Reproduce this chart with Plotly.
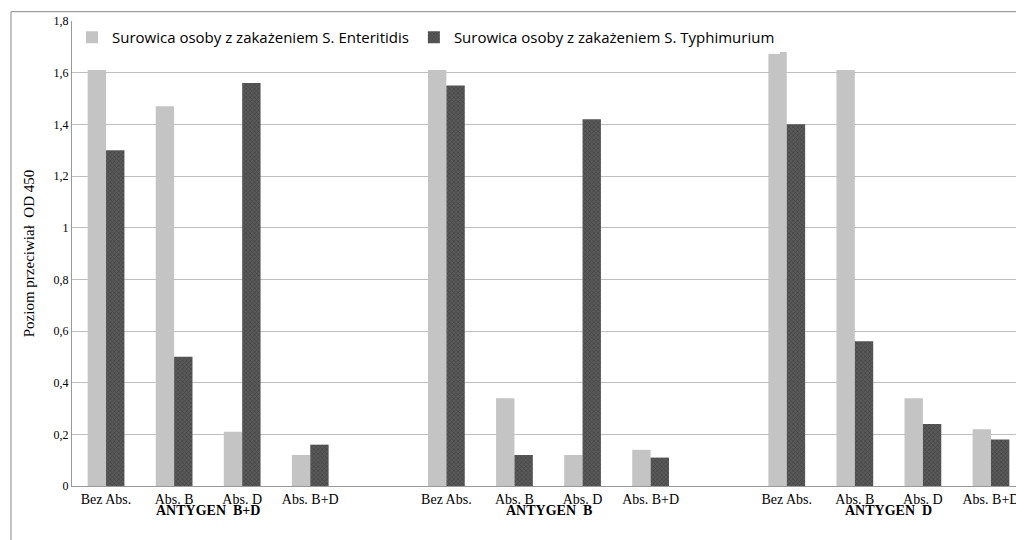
import plotly.graph_objects as go

slots = ["Bez Abs.", "Abs. B", "Abs. D", "Abs. B+D", "",
         "Bez Abs.", "Abs. B", "Abs. D", "Abs. B+D", "",
         "Bez Abs.", "Abs. B", "Abs. D", "Abs. B+D"]
groups = ["ANTYGEN  B+D", "ANTYGEN  B", "ANTYGEN  D"]
enteritidis = [1.61, 1.47, 0.21, 0.12, None,
               1.61, 0.34, 0.12, 0.14, None,
               1.68, 1.61, 0.34, 0.22]
typhimurium = [1.30, 0.50, 1.56, 0.16, None,
               1.55, 0.12, 1.42, 0.11, None,
               1.40, 0.56, 0.24, 0.18]
y_ticks = [0, 0.2, 0.4, 0.6, 0.8, 1, 1.2, 1.4, 1.6, 1.8]
y_labels = ["0", "0,2", "0,4", "0,6", "0,8", "1", "1,2", "1,4", "1,6", "1,8"]

x = list(range(len(slots)))

fig = go.Figure()
fig.add_trace(go.Bar(x=x, y=enteritidis, name="Surowica osoby z zakażeniem S. Enteritidis",
                     marker=dict(color="#c4c4c4", line=dict(width=0))))
fig.add_trace(go.Bar(x=x, y=typhimurium, name="Surowica osoby z zakażeniem S. Typhimurium",
                     marker=dict(color="#5a5a5a", line=dict(width=0),
                                 pattern=dict(shape="x", fgcolor="#2a2a2a", size=3, solidity=0.4))))

# group labels under the axis
for i, g in enumerate(groups):
    fig.add_annotation(x=i * 5 + 1.5, y=0, xref="x", yref="paper", yshift=-34,
                       text="<b>" + g + "</b>", showarrow=False,
                       font=dict(family="Liberation Serif", size=14, color="black"))

fig.add_shape(type="rect", xref="paper", yref="paper", x0=-0.064, x1=1.005, y0=-0.14, y1=1.02,
              line=dict(color="#888", width=1))

fig.update_layout(
    width=1024, height=540, plot_bgcolor="white", paper_bgcolor="white",
    margin=dict(l=64, r=7, t=13, b=62),
    barmode="group", bargap=0.46, bargroupgap=0,
    font=dict(family="Liberation Serif", size=13, color="black"),
    legend=dict(orientation="h", x=0.0, y=1.0, xanchor="left", yanchor="top",
                font=dict(family="Open Sans", size=15), bgcolor="rgba(255,255,255,0.9)"),
    xaxis=dict(tickvals=x, ticktext=slots, range=[-0.5, len(slots) - 0.5],
               showline=True, linecolor="#999", ticks="", tickfont=dict(size=14)),
    yaxis=dict(range=[0, 1.8], tickvals=y_ticks, ticktext=y_labels, showgrid=True, gridcolor="#bfbfbf",
               showline=True, linecolor="#999", zeroline=False, tickfont=dict(size=12),
               title=dict(text="Poziom przeciwiał  OD 450", font=dict(size=15))),
)

fig.write_html("out.html")
